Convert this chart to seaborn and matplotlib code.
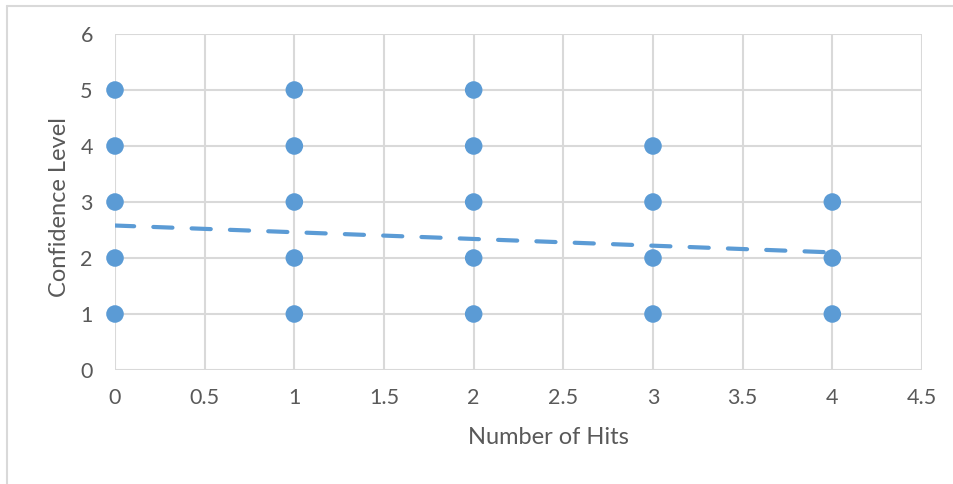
import matplotlib
matplotlib.use("Agg")
import matplotlib.pyplot as plt
import seaborn as sns
import pandas as pd
from matplotlib.lines import Line2D

# Data (each visible point once)
hits = [0, 0, 0, 0, 0,
        1, 1, 1, 1, 1,
        2, 2, 2, 2, 2,
        3, 3, 3, 3,
        4, 4, 4]
confidence = [1, 2, 3, 4, 5,
              1, 2, 3, 4, 5,
              1, 2, 3, 4, 5,
              1, 2, 3, 4,
              1, 2, 3]

# Linear trendline as drawn in the chart (estimated end points)
trend_x = [0, 4]
trend_y = [2.58, 2.10]

x_ticks = [0, 0.5, 1, 1.5, 2, 2.5, 3, 3.5, 4, 4.5]
x_tick_labels = ["0", "0.5", "1", "1.5", "2", "2.5", "3", "3.5", "4", "4.5"]
y_ticks = [0, 1, 2, 3, 4, 5, 6]

blue = "#5B9BD5"
grid_col = "#D9D9D9"
text_col = "#595959"

sns.set_theme(style="white")
plt.rcParams["font.family"] = ["Lato", "DejaVu Sans"]

df = pd.DataFrame({"Number of Hits": hits, "Confidence Level": confidence})
trend_df = pd.DataFrame({"x": trend_x, "y": trend_y})

fig = plt.figure(figsize=(9.54, 4.84), dpi=100)
ax = fig.add_axes([115 / 954, 1 - 370 / 484, (922 - 115) / 954, (370 - 34) / 484])

sns.lineplot(data=trend_df, x="x", y="y", ax=ax, color=blue, linewidth=3.0,
             dashes=False, zorder=3)
ax.lines[-1].set_linestyle((0, (4.6, 4.6)))
ax.lines[-1].set_dash_capstyle("round")

sns.scatterplot(data=df, x="Number of Hits", y="Confidence Level", ax=ax,
                color=blue, s=160, edgecolor="none", zorder=4, clip_on=False)

ax.set_xlim(0, 4.5)
ax.set_ylim(0, 6)
ax.set_xticks(x_ticks)
ax.set_xticklabels(x_tick_labels)
ax.set_yticks(y_ticks)
ax.grid(True, color=grid_col, linewidth=1.5, zorder=0)
ax.set_axisbelow(True)
for s in ax.spines.values():
    s.set_visible(False)
ax.tick_params(axis="both", length=0, labelsize=15.5, colors=text_col)
ax.tick_params(axis="x", pad=13)
ax.tick_params(axis="y", pad=16)
ax.set_xlabel("Number of Hits", fontsize=17, color=text_col)
ax.set_ylabel("Confidence Level", fontsize=17, color=text_col)
# Excel places the titles a bit off the plot centre
ax.xaxis.set_label_coords((548 - 115) / 807, (370 - 427) / 336)
ax.yaxis.set_label_coords((70 - 115) / 807, (370 - 207) / 336)

# chart area border (left and top edges visible)
fig.add_artist(Line2D([7.5 / 954, 7.5 / 954], [0, 1 - 5.5 / 484],
                      transform=fig.transFigure, color=grid_col, linewidth=1.5))
fig.add_artist(Line2D([7.5 / 954, 1], [1 - 5.5 / 484, 1 - 5.5 / 484],
                      transform=fig.transFigure, color=grid_col, linewidth=1.5))

fig.savefig("out.png", dpi=100)
